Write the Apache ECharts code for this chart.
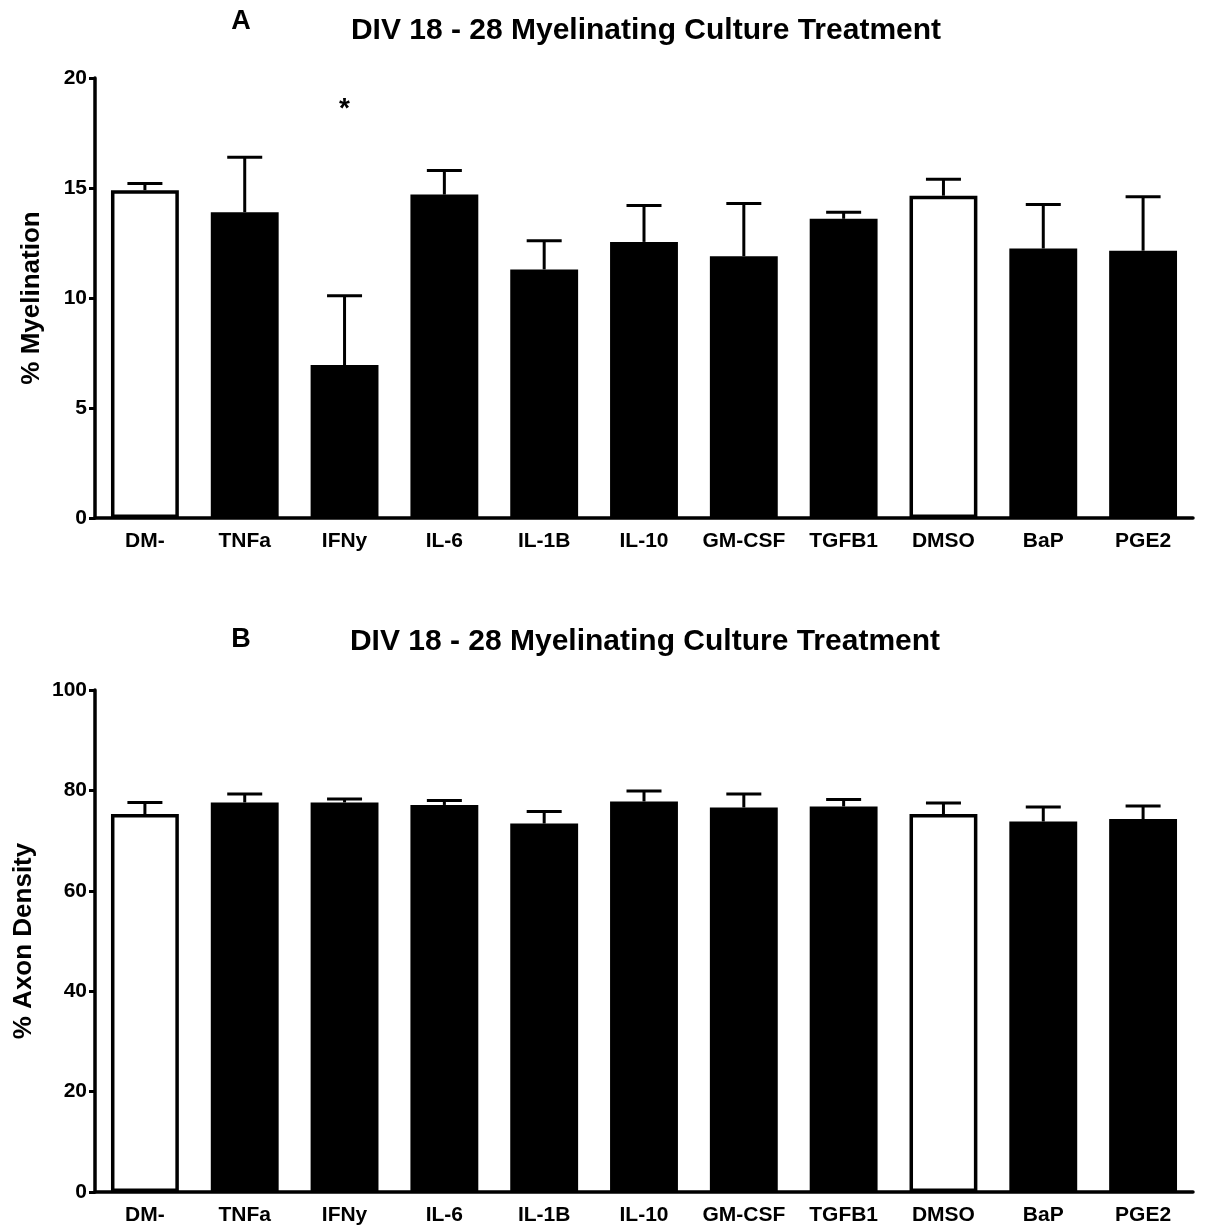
<!DOCTYPE html>
<html>
<head>
<meta charset="utf-8">
<script src="https://cdn.jsdelivr.net/npm/echarts@6/dist/echarts.min.js"></script>
<style>
html,body{margin:0;padding:0;background:#fff;}
#chart{width:1206px;height:1229px;}
</style>
</head>
<body>
<div id="chart"></div>
<script>
// ---- data ----
var categories = ['DM-', 'TNFa', 'IFNy', 'IL-6', 'IL-1B', 'IL-10', 'GM-CSF', 'TGFB1', 'DMSO', 'BaP', 'PGE2'];
var openBars = ['DM-', 'DMSO'];
var myelinMean = [14.9, 13.9, 6.95, 14.7, 11.3, 12.55, 11.9, 13.6, 14.65, 12.25, 12.15];
var myelinErr  = [0.3, 2.5, 3.15, 1.1, 1.3, 1.65, 2.4, 0.3, 0.75, 2.0, 2.45];
var myelinSig  = ['', '', '*', '', '', '', '', '', '', '', ''];
var axonMean = [75.3, 77.6, 77.6, 77.1, 73.4, 77.8, 76.6, 76.8, 75.3, 73.8, 74.3];
var axonErr  = [2.3, 1.7, 0.7, 0.9, 2.4, 2.1, 2.7, 1.4, 2.2, 2.9, 2.6];
var myelinTicks = [0, 5, 10, 15, 20];
var axonTicks = [0, 20, 40, 60, 80, 100];
var titleText = 'DIV 18 - 28 Myelinating Culture Treatment';

var FONT = '"Liberation Sans", Arial, sans-serif';

function barData(means) {
  return means.map(function (v, i) {
    var open = openBars.indexOf(categories[i]) >= 0;
    return {
      value: v,
      itemStyle: open ? {color: '#ffffff', borderColor: '#000', borderWidth: 3.5}
                      : {color: '#000000', borderColor: '#000', borderWidth: 0}
    };
  });
}

function errData(means, errs, sig, sigY) {
  return means.map(function (v, i) {
    return [i, v, v + errs[i], sig ? sig[i] : '', sigY || 0];
  });
}

function renderErr(params, api) {
  var x = api.value(0);
  var base = api.coord([x, api.value(1)]);
  var top = api.coord([x, api.value(2)]);
  var half = 17.5;
  var children = [
    {type: 'line', shape: {x1: base[0], y1: base[1], x2: top[0], y2: top[1]},
     style: {stroke: '#000', lineWidth: 3}},
    {type: 'line', shape: {x1: top[0] - half, y1: top[1], x2: top[0] + half, y2: top[1]},
     style: {stroke: '#000', lineWidth: 3}}
  ];
  var s = api.value(3);
  if (s) {
    var p = api.coord([x, api.value(4)]);
    children.push({type: 'text', x: p[0], y: p[1],
      style: {text: s, font: 'bold 28px ' + FONT, fill: '#000', align: 'center', verticalAlign: 'middle'}});
  }
  return {type: 'group', children: children};
}

function xAxisCfg(gridIndex) {
  return {
    type: 'category', gridIndex: gridIndex, data: categories,
    boundaryGap: true,
    axisLine: {lineStyle: {color: '#000', width: 3.5}},
    axisTick: {alignWithLabel: true, length: 6, lineStyle: {color: '#000', width: 3}},
    axisLabel: {color: '#000', fontFamily: FONT, fontWeight: 'bold', fontSize: 21, margin: 13, interval: 0},
    splitLine: {show: false}
  };
}

function yAxisCfg(gridIndex, ticks, name, gap) {
  return {
    type: 'value', gridIndex: gridIndex,
    min: ticks[0], max: ticks[ticks.length - 1], interval: ticks[1] - ticks[0],
    name: name, nameLocation: 'middle', nameRotate: 90, nameGap: gap,
    nameTextStyle: {color: '#000', fontFamily: FONT, fontWeight: 'bold', fontSize: 26},
    axisLine: {show: true, lineStyle: {color: '#000', width: 3.5}},
    axisTick: {show: true, length: 6, lineStyle: {color: '#000', width: 3}},
    axisLabel: {color: '#000', fontFamily: FONT, fontWeight: 'bold', fontSize: 21, margin: 8},
    splitLine: {show: false}
  };
}

var chart = echarts.init(document.getElementById('chart'), null, {renderer: 'canvas'});
chart.setOption({
  backgroundColor: '#ffffff',
  animation: false,
  grid: [
    {left: 95, top: 78, width: 1098, height: 440},
    {left: 95, top: 690, width: 1098, height: 502}
  ],
  xAxis: [xAxisCfg(0), xAxisCfg(1)],
  yAxis: [
    yAxisCfg(0, myelinTicks, '% Myelination', 50),
    yAxisCfg(1, axonTicks, '% Axon Density', 58)
  ],
  graphic: [
    {type: 'text', x: 241, y: 22, style: {text: 'A', font: 'bold 27px ' + FONT, fill: '#000', textAlign: 'center', textVerticalAlign: 'middle'}},
    {type: 'text', x: 646, y: 31, style: {text: titleText, font: 'bold 30px ' + FONT, fill: '#000', textAlign: 'center', textVerticalAlign: 'middle'}},
    {type: 'text', x: 241, y: 640, style: {text: 'B', font: 'bold 27px ' + FONT, fill: '#000', textAlign: 'center', textVerticalAlign: 'middle'}},
    {type: 'text', x: 645, y: 642, style: {text: titleText, font: 'bold 30px ' + FONT, fill: '#000', textAlign: 'center', textVerticalAlign: 'middle'}}
  ],
  series: [
    {type: 'bar', xAxisIndex: 0, yAxisIndex: 0, data: barData(myelinMean), barWidth: '68%', z: 2},
    {type: 'custom', xAxisIndex: 0, yAxisIndex: 0, data: errData(myelinMean, myelinErr, myelinSig, 18.6),
     renderItem: renderErr, z: 3, encode: {x: 0, y: [1, 2]}},
    {type: 'bar', xAxisIndex: 1, yAxisIndex: 1, data: barData(axonMean), barWidth: '68%', z: 2},
    {type: 'custom', xAxisIndex: 1, yAxisIndex: 1, data: errData(axonMean, axonErr, null, 0),
     renderItem: renderErr, z: 3, encode: {x: 0, y: [1, 2]}}
  ]
});
</script>
</body>
</html>
